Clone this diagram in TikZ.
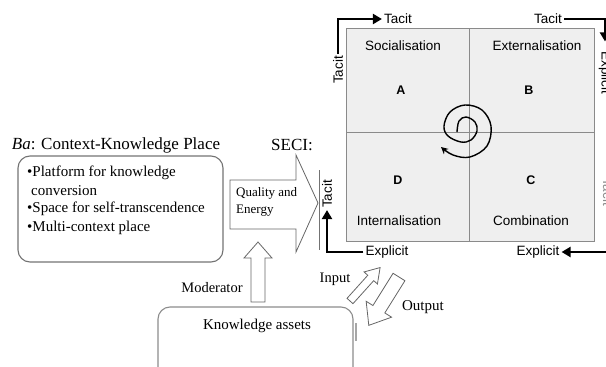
\documentclass[tikz,border=0pt]{standalone}
\usepackage{fontspec}
\setmainfont{Liberation Serif}
\newfontfamily\arialf{Liberation Sans}
\usetikzlibrary{arrows.meta}
\definecolor{gridfill}{HTML}{EFEFEF}
\definecolor{gridline}{HTML}{8A8A8A}
\begin{document}
\begin{tikzpicture}[x=1pt,y=-1pt,
  sanslbl/.style={font=\arialf\fontsize{13.5}{15}\selectfont, inner sep=2pt},
  letterlbl/.style={font=\arialf\bfseries\fontsize{12.5}{15}\selectfont},
  seriflbl/.style={font=\fontsize{15}{18}\selectfont, inner sep=1pt},
  smallserif/.style={font=\fontsize{13}{16}\selectfont, inner sep=0pt, anchor=west},
  boxline/.style={font=\fontsize{15}{18}\selectfont, inner sep=0pt, anchor=west},
  bigarrow/.style={line width=2.6pt, -{Triangle[length=9pt,width=10pt]}},
  hollow/.style={draw=black!60, fill=white, line width=0.8pt, line join=miter},
  roundbox/.style={draw=black!55, line width=1.1pt, rounded corners=12pt},
]
\useasboundingbox (0,0) rectangle (606,367);
\clip (0,0) rectangle (606,367);

% SECI grid
\draw[gridline, fill=gridfill, line width=0.8pt] (346,28) rectangle (594,241);
\draw[gridline, line width=0.8pt] (469,28) -- (469,241);
\draw[gridline, line width=0.8pt] (346,132) -- (594,132);

\node[sanslbl] (soc) at (403,46) {Socialisation};
\node[sanslbl] (ext) at (537,46) {Externalisation};
\node[sanslbl] (int) at (399,221) {Internalisation};
\node[sanslbl] (com) at (531,221) {Combination};
\node[letterlbl] (qa) at (401,90) {A};
\node[letterlbl] (qb) at (529,90) {B};
\node[letterlbl] (qc) at (531,180) {C};
\node[letterlbl] (qd) at (398,180) {D};

% spiral
\draw[line width=1.4pt, -{Stealth[length=7pt,width=7pt]}] plot[smooth, tension=0.6] coordinates {
 (457,132) (459,121) (466,117) (475,122) (477,131) (471,140) (461,142)
 (448,136) (444,126) (450,112) (465,105) (482,110) (491,126) (487,146)
 (470,157) (453,155) (441,147)};

% corner labels and arrows
\node[sanslbl] (tlh) at (398,19) {Tacit};
\node[sanslbl, rotate=90] (tlv) at (338,70) {Tacit};
\draw[bigarrow] (tlv.east) |- (tlh.west);

\node[sanslbl] (trh) at (548,19) {Tacit};
\node[sanslbl, rotate=-90] (trv) at (605,73) {Explicit};
\draw[bigarrow, shorten >=8pt] (trh.east) -| (trv.west);

\node[sanslbl] (blh) at (387,252) {Explicit};
\node[sanslbl, rotate=90] (blv) at (327,194) {Tacit};
\draw[bigarrow] (blh.west) -| (blv.west);

\node[sanslbl] (brh) at (538,252) {Explicit};
\coordinate (brs) at (612,252);
\draw[bigarrow] (brs) -- (brh.east);
\node[sanslbl, rotate=-90, text=black!45] (brv) at (608,192) {Tacit};

% thin line at SECI
\draw[black!55, line width=0.8pt] (319,170) -- (319,250);

% Ba heading and box
\node[font=\fontsize{17}{20}\selectfont, inner sep=0pt] (bahead) at (116,145) {\textit{Ba}: Context-Knowledge Place};
\node[font=\fontsize{17}{20}\selectfont, inner sep=0pt] (seci) at (292,145) {SECI:};
\draw[roundbox] (18,156) rectangle (223,262);
\node[boxline] (b1) at (27,173) {•Platform for knowledge};
\node[boxline] (b2) at (31,191) {conversion};
\node[boxline] (b3) at (27,209) {•Space for self-transcendence};
\node[boxline] (b4) at (27,228) {•Multi-context place};

% Quality and Energy arrow
\draw[hollow] (230,180) -- (296,180) -- (296,155) -- (318,203) -- (296,252) -- (296,229) -- (230,229) -- cycle;
\node[smallserif] (q1) at (236,193) {Quality and};
\node[smallserif] (q2) at (236,211) {Energy};

% Moderator arrow
\draw[hollow] (251,302) -- (251,258) -- (244,258) -- (258,242) -- (272,258) -- (265,258) -- (265,302) -- cycle;
\node[font=\fontsize{14.5}{17}\selectfont, inner sep=0pt] (mod) at (212,288) {Moderator};

% Knowledge assets box
\draw[roundbox, draw=black!45] (158,385) -- (158,307) -- (353,307) -- (353,385);
\draw[black!35, line width=2pt] (356,323) -- (356,341);
\node[font=\fontsize{15}{18}\selectfont, inner sep=0pt] (ka) at (257,326) {Knowledge assets};

% Input arrow
\begin{scope}[shift={(350,301)}, rotate=48]
  \draw[hollow] (0,-4) -- (31,-4) -- (31,-9) -- (45,0) -- (31,9) -- (31,4) -- (0,4) -- cycle;
\end{scope}
\node[font=\fontsize{14.5}{17}\selectfont, inner sep=0pt] (inp) at (335,279) {Input};

% Output arrow
\begin{scope}[shift={(399,277)}, rotate=-122]
  \draw[hollow] (0,-7) -- (38,-7) -- (38,-15) -- (57,0) -- (38,15) -- (38,7) -- (0,7) -- cycle;
\end{scope}
\node[font=\fontsize{15}{18}\selectfont, inner sep=0pt] (outp) at (423,307) {Output};
\end{tikzpicture}
\end{document}
